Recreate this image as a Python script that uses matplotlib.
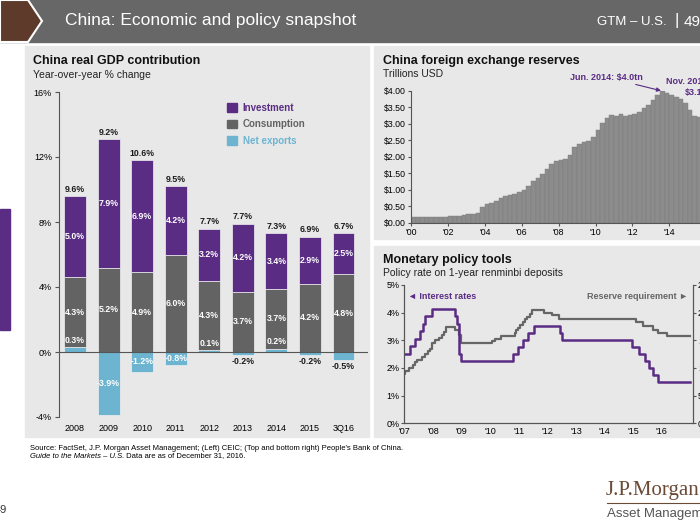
import numpy as np
import matplotlib.pyplot as plt
from matplotlib.patches import Rectangle, Polygon, Patch

plt.rcParams['font.family'] = ['Liberation Sans', 'DejaVu Sans']

W, H = 700, 525

def px(x):
    return x / W

def py(y):
    return 1 - y / H

# colours
purple = '#5a2c83'
dgray = '#636363'
lblue = '#6cb4d0'
panel = '#e8e8e8'
axcol = '#555555'

# China real GDP contribution (%)
years = ['2008', '2009', '2010', '2011', '2012', '2013', '2014', '2015', '3Q16']
investment = [5.0, 7.9, 6.9, 4.2, 3.2, 4.2, 3.4, 2.9, 2.5]
consumption = [4.3, 5.2, 4.9, 6.0, 4.3, 3.7, 3.7, 4.2, 4.8]
net_exports = [0.3, -3.9, -1.2, -0.8, 0.1, -0.2, 0.2, -0.2, -0.5]
gdp_total = [9.6, 9.2, 10.6, 9.5, 7.7, 7.7, 7.3, 6.9, 6.7]

# China FX reserves, quarterly, trillions USD (as drawn)
fx_start = 2000.0
fx_reserves = [0.17, 0.16, 0.16, 0.16,
               0.165, 0.17, 0.17, 0.18,
               0.19, 0.20, 0.21, 0.23,
               0.25, 0.27, 0.29, 0.48,
               0.55, 0.60, 0.66, 0.73,
               0.79, 0.84, 0.88, 0.94,
               1.00, 1.10, 1.25, 1.36,
               1.47, 1.62, 1.79, 1.88,
               1.91, 1.92, 2.05, 2.28,
               2.38, 2.44, 2.47, 2.60,
               2.80, 3.01, 3.17, 3.27,
               3.23, 3.28, 3.24, 3.27,
               3.30, 3.35, 3.48, 3.58,
               3.72, 3.88, 3.98, 3.93,
               3.86, 3.80, 3.74, 3.62,
               3.42, 3.22, 3.21, 3.20,
               3.19, 3.20, 3.15, 3.10]
fx_years = ["'00", "'02", "'04", "'06", "'08", "'10", "'12", "'14", "'16"]

# 1-year deposit rate (%)
rate_dates = [2007.0, 2007.21, 2007.38, 2007.55, 2007.64, 2007.71, 2007.97,
              2008.77, 2008.83, 2008.90, 2008.98, 2010.81, 2010.99, 2011.14,
              2011.32, 2011.53, 2012.44, 2012.53, 2014.95, 2015.20, 2015.40,
              2015.55, 2015.70, 2015.86, 2017.0]
rate_values = [2.52, 2.79, 3.06, 3.33, 3.60, 3.87, 4.14,
               3.87, 3.60, 2.52, 2.25, 2.50, 2.75, 3.00,
               3.25, 3.50, 3.25, 3.00, 2.75, 2.50, 2.25,
               2.00, 1.75, 1.50, 1.50]

# reserve requirement ratio (%)
rrr_dates = [2007.0, 2007.04, 2007.15, 2007.29, 2007.37, 2007.43, 2007.62,
             2007.73, 2007.82, 2007.90, 2007.98, 2008.07, 2008.23, 2008.31,
             2008.38, 2008.45, 2008.79, 2008.93, 2008.98, 2010.05, 2010.16,
             2010.38, 2010.88, 2010.91, 2010.97, 2011.05, 2011.15, 2011.23,
             2011.30, 2011.38, 2011.47, 2011.90, 2012.15, 2012.42, 2015.10,
             2015.33, 2015.68, 2015.86, 2016.20, 2017.0]
rrr_values = [9.0, 9.5, 10.0, 10.5, 11.0, 11.5, 12.0,
              12.5, 13.0, 13.5, 14.5, 15.0, 15.5, 16.0,
              16.5, 17.35, 16.9, 15.9, 14.5, 14.9, 15.3,
              15.8, 16.3, 16.8, 17.3, 17.8, 18.3, 18.8,
              19.3, 19.8, 20.4, 20.0, 19.5, 18.8, 18.3,
              17.5, 16.9, 16.4, 15.8, 15.8]
mp_years = ["'07", "'08", "'09", "'10", "'11", "'12", "'13", "'14", "'15", "'16"]

fig = plt.figure(figsize=(7, 5.25), dpi=100)
fig.patch.set_facecolor('white')

# header bar
fig.patches.append(Rectangle((0, py(42)), 1, 42 / H, transform=fig.transFigure,
                             color='#676767', zorder=-2))
fig.patches.append(Polygon([(0, py(0)), (px(28), py(0)), (px(42), py(21)),
                            (px(28), py(42)), (0, py(42))], closed=True,
                           transform=fig.transFigure, facecolor='#5e3a2b',
                           edgecolor='white', linewidth=1.5, zorder=-1))
fig.text(px(65), py(21), 'China: Economic and policy snapshot', color='white',
         fontsize=12.5, va='center')
fig.text(px(597), py(22), 'GTM – U.S.', color='white', fontsize=9.5, va='center')
fig.text(px(674), py(21), '|', color='white', fontsize=12, va='center')
fig.text(px(684), py(22), '49', color='white', fontsize=11, va='center')

# panels
for (x0, y0, x1, y1) in [(25, 46, 369, 437), (374, 46, 720, 239), (374, 246, 720, 437)]:
    fig.patches.append(Rectangle((px(x0), py(y1)), (x1 - x0) / W, (y1 - y0) / H,
                                 transform=fig.transFigure, color=panel, zorder=-2))
fig.patches.append(Rectangle((0, py(330)), px(10), (330 - 209) / H,
                             transform=fig.transFigure, color=purple, zorder=-2))

# ---- left: GDP contribution
fig.text(px(33), py(61), 'China real GDP contribution', fontsize=9, weight='bold',
         color='#111111', va='center')
fig.text(px(33), py(75), 'Year-over-year % change', fontsize=7.5, color='#222222', va='center')

ax1 = fig.add_axes([px(59), py(417), (368 - 59) / W, (417 - 92) / H])
ax1.set_facecolor('none')
x = np.arange(len(years))
inv = np.array(investment)
con = np.array(consumption)
nex = np.array(net_exports)
base = np.where(nex > 0, nex, 0)
bw = 0.655
ax1.bar(x, nex, width=bw, color=lblue, edgecolor='#f0f0f0', linewidth=0.5)
ax1.bar(x, con, bottom=base, width=bw, color=dgray, edgecolor='#f0f0f0', linewidth=0.5)
ax1.bar(x, inv, bottom=base + con, width=bw, color=purple, edgecolor='#f0f0f0', linewidth=0.5)
ax1.axhline(0, color=axcol, lw=0.8)
lab = dict(ha='center', va='center', fontsize=6.3, weight='bold')
for i in range(len(years)):
    top = base[i] + con[i] + inv[i]
    ax1.text(i, top + 0.42, f'{gdp_total[i]:.1f}%', color='#1a1a1a', **lab)
    ax1.text(i, base[i] + con[i] + inv[i] / 2, f'{inv[i]:.1f}%', color='white', **lab)
    ax1.text(i, base[i] + con[i] / 2, f'{con[i]:.1f}%', color='white', **lab)
    v = nex[i]
    if v <= -0.8:
        ax1.text(i, v / 2, f'{v:.1f}%', color='white', **lab)
    elif v < 0:
        ax1.text(i, v - 0.38, f'{v:.1f}%', color='#1a1a1a', **lab)
    else:
        ax1.text(i, v + 0.42, f'{v:.1f}%', color='white', **lab)
ax1.set_xlim(-0.476, 8.73)
ax1.set_ylim(-4, 16)
ax1.set_yticks(range(-4, 17, 4), [f'{v}%' for v in range(-4, 17, 4)])
ax1.set_xticks(x, years)
ax1.tick_params(axis='y', length=3, width=0.8, color=axcol, labelsize=6.5, pad=2)
ax1.tick_params(axis='x', length=0, labelsize=6.5, pad=5)
for s in ['top', 'right', 'bottom']:
    ax1.spines[s].set_visible(False)
ax1.spines['left'].set_color(axcol)
ax1.spines['left'].set_linewidth(0.8)
handles = [Patch(color=purple), Patch(color=dgray), Patch(color=lblue)]
ax1.legend(handles, ['Investment', 'Consumption', 'Net exports'],
           labelcolor=[purple, dgray, lblue], prop={'weight': 'bold', 'size': 7},
           loc='upper left', bbox_to_anchor=(px(227), py(103)),
           bbox_transform=fig.transFigure, frameon=False, handlelength=1.0,
           handleheight=1.0, handletextpad=0.6, labelspacing=0.65,
           borderpad=0, borderaxespad=0)

# ---- top right: FX reserves
fig.text(px(383), py(61), 'China foreign exchange reserves', fontsize=9, weight='bold',
         color='#111111', va='center')
fig.text(px(383), py(74), 'Trillions USD', fontsize=7.5, color='#222222', va='center')

ax2 = fig.add_axes([px(411), py(222.5), 17 * 18.45 / W, (222.5 - 90.7) / H])
ax2.set_facecolor('none')
fx_x = fx_start + 0.25 * np.arange(len(fx_reserves))
ax2.bar(fx_x, fx_reserves, width=0.25, align='edge', color='#8c8c8c',
        edgecolor='#7d7d7d', linewidth=0.3)
ax2.set_xlim(2000, 2017)
ax2.set_ylim(0, 4)
yt = np.arange(0, 4.01, 0.5)
ax2.set_yticks(yt, [f'${v:.2f}' for v in yt])
ax2.set_xticks(np.arange(2000, 2017, 2), fx_years)
ax2.tick_params(length=2, width=0.8, color=axcol, labelsize=6.3, pad=2)
for s in ['top', 'right']:
    ax2.spines[s].set_visible(False)
for s in ['left', 'bottom']:
    ax2.spines[s].set_color(axcol)
    ax2.spines[s].set_linewidth(0.8)
ax2.annotate('Jun. 2014: $4.0tn', xy=(2013.55, 4.0), xytext=(2012.55, 4.41),
             ha='right', va='center', fontsize=6.5, weight='bold', color=purple,
             annotation_clip=False,
             arrowprops=dict(arrowstyle='-|>', color=purple, lw=0.8,
                             mutation_scale=6, shrinkA=0, shrinkB=0))
ax2.text(2016.25, 4.1, 'Nov. 2016:\n$3.1tn', ha='right', va='center', fontsize=6.5,
         weight='bold', color=purple, multialignment='right', linespacing=1.3,
         clip_on=False)

# ---- bottom right: monetary policy
fig.text(px(383), py(260), 'Monetary policy tools', fontsize=9, weight='bold',
         color='#111111', va='center')
fig.text(px(383), py(273), 'Policy rate on 1-year renminbi deposits', fontsize=7.5,
         color='#222222', va='center')

ax3 = fig.add_axes([px(404.3), py(423.3), 10.1 * 28.6 / W, 138.3 / H])
ax4 = ax3.twinx()
ax3.set_zorder(ax4.get_zorder() + 1)
ax3.patch.set_visible(False)
ax4.patch.set_visible(False)
ax4.step(rrr_dates, rrr_values, where='post', color='#666666', lw=1.6)
ax3.step(rate_dates, rate_values, where='post', color=purple, lw=1.8)
ax3.set_xlim(2007, 2017.1)
ax3.set_ylim(0, 5)
ax4.set_ylim(0, 25)
ax3.set_yticks(range(0, 6), [f'{v}%' for v in range(0, 6)])
ax4.set_yticks(range(0, 26, 5), [f'{v}%' for v in range(0, 26, 5)])
ax3.set_xticks(range(2007, 2017), mp_years)
for a in (ax3, ax4):
    a.tick_params(length=2, width=0.8, color=axcol, labelsize=6.5, pad=1.5)
    a.spines['top'].set_visible(False)
    for s in ['left', 'right', 'bottom']:
        a.spines[s].set_color(axcol)
        a.spines[s].set_linewidth(0.8)
ax3.tick_params(axis='x', length=0, pad=3)
ax3.text(2007.13, 4.6, '◄ Interest rates', ha='left', va='center', fontsize=6.5,
         weight='bold', color=purple)
ax3.text(2016.92, 4.6, 'Reserve requirement ►', ha='right', va='center', fontsize=6.5,
         weight='bold', color='#666666')

# ---- footer
fig.text(px(30), py(448), "Source: FactSet, J.P. Morgan Asset Management; (Left) CEIC; "
         "(Top and bottom right) People's Bank of China.", fontsize=5.5, va='center')
t = fig.text(px(30), py(456), 'Guide to the Markets – U.S.', fontsize=5.5,
             style='italic', va='center')
ax1.annotate(' Data are as of December 31, 2016.', xy=(1, 0), xycoords=t,
             va='bottom', ha='left', fontsize=5.5, annotation_clip=False)
fig.text(px(7), py(510), '49', fontsize=8, ha='right', va='center', color='#333333')
fig.text(px(606), py(491), 'J.P.Morgan', fontsize=15, family=['Liberation Serif', 'DejaVu Serif'],
         color='#6b4a36', va='center')
fig.lines.append(plt.Line2D([px(607), px(700)], [py(503), py(503)],
                            transform=fig.transFigure, color='#6b4a36', lw=0.8))
fig.text(px(607), py(514), 'Asset Management', fontsize=9.5,
         color='#555555', va='center')

fig.savefig('out.png', dpi=100)
